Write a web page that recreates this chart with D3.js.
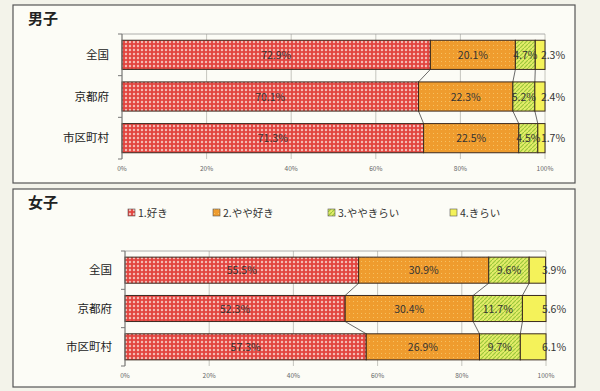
<!DOCTYPE html>
<html>
<head>
<meta charset="utf-8">
<script src="https://cdn.jsdelivr.net/npm/d3@7"></script>
<style>
  body { margin: 0; background: #f3f3ea; }
  svg { display: block; font-family: "Noto Sans CJK JP", sans-serif; }
</style>
</head>
<body>
<div id="chart"></div>
<script>
// Data
const categories = ["全国", "京都府", "市区町村"];
const seriesNames = ["1.好き", "2.やや好き", "3.ややきらい", "4.きらい"];
const boys = [
  [72.9, 20.1, 4.7, 2.3],
  [70.1, 22.3, 5.2, 2.4],
  [71.3, 22.5, 4.5, 1.7]
];
const girls = [
  [55.5, 30.9, 9.6, 3.9],
  [52.3, 30.4, 11.7, 5.6],
  [57.3, 26.9, 9.7, 6.1]
];
const tickLabels = ["0%", "20%", "40%", "60%", "80%", "100%"];

const width = 600, height = 391;
const svg = d3.select("#chart").append("svg")
  .attr("width", width)
  .attr("height", height);

// Patterns for the four series
const defs = svg.append("defs");
const p1 = defs.append("pattern").attr("id", "pat0")
  .attr("patternUnits", "userSpaceOnUse").attr("width", 4).attr("height", 4);
p1.append("rect").attr("width", 4).attr("height", 4).attr("fill", "#e2443f");
p1.append("path").attr("d", "M2,0.6 L3.4,2 L2,3.4 L0.6,2 Z").attr("fill", "#f7d0c8");

const p2 = defs.append("pattern").attr("id", "pat1")
  .attr("patternUnits", "userSpaceOnUse").attr("width", 4).attr("height", 4);
p2.append("rect").attr("width", 4).attr("height", 4).attr("fill", "#ef9c2e");
p2.append("rect").attr("x", 1).attr("y", 1).attr("width", 1).attr("height", 1).attr("fill", "#f6c060");

const p3 = defs.append("pattern").attr("id", "pat2")
  .attr("patternUnits", "userSpaceOnUse").attr("width", 4).attr("height", 4);
p3.append("rect").attr("width", 4).attr("height", 4).attr("fill", "#e4ec6a");
p3.append("path").attr("d", "M0,4 L4,0").attr("stroke", "#9cc83a").attr("stroke-width", 1.2);

const p4 = defs.append("pattern").attr("id", "pat3")
  .attr("patternUnits", "userSpaceOnUse").attr("width", 4).attr("height", 4);
p4.append("rect").attr("width", 4).attr("height", 4).attr("fill", "#f4f25a");

const fills = ["url(#pat0)", "url(#pat1)", "url(#pat2)", "url(#pat3)"];

function panel(opts) {
  const g = svg.append("g");

  // frame
  g.append("rect")
    .attr("x", opts.frame[0]).attr("y", opts.frame[1])
    .attr("width", opts.frame[2]).attr("height", opts.frame[3])
    .attr("fill", "#fcfcf6").attr("stroke", "#555").attr("stroke-width", 1.2);

  g.append("text")
    .attr("x", opts.frame[0] + 15).attr("y", opts.frame[1] + 19)
    .attr("font-size", 15).attr("font-weight", "bold").attr("fill", "#222")
    .text(opts.title);

  const x = d3.scaleLinear().domain([0, 100]).range(opts.xRange);
  const y = d3.scaleBand().domain(categories).range(opts.yRange).paddingInner(opts.pad).paddingOuter(opts.pad / 2);

  // gridlines
  g.append("g").selectAll("line")
    .data(d3.range(0, 101, 20))
    .join("line")
    .attr("x1", d => x(d)).attr("x2", d => x(d))
    .attr("y1", opts.yRange[0]).attr("y2", opts.yRange[1])
    .attr("stroke", "#b8b8b0").attr("stroke-width", 0.8);

  g.append("line")
    .attr("x1", x(0)).attr("x2", x(100))
    .attr("y1", opts.yRange[0]).attr("y2", opts.yRange[0])
    .attr("stroke", "#999").attr("stroke-width", 0.8);

  // stacked data
  const rows = opts.data.map((vals, i) => {
    let acc = 0;
    return vals.map((v, k) => {
      const seg = { cat: categories[i], k: k, v: v, x0: acc, x1: acc + v };
      acc += v;
      return seg;
    });
  });

  // connector lines between bars
  const conn = [];
  for (let i = 0; i < rows.length - 1; i++) {
    for (let k = 0; k < 3; k++) {
      conn.push({ a: rows[i][k].x1, b: rows[i + 1][k].x1, ya: y(categories[i]) + y.bandwidth(), yb: y(categories[i + 1]) });
    }
  }
  g.append("g").selectAll("line")
    .data(conn)
    .join("line")
    .attr("x1", d => x(d.a)).attr("x2", d => x(d.b))
    .attr("y1", d => d.ya).attr("y2", d => d.yb)
    .attr("stroke", "#444").attr("stroke-width", 0.8);

  // bars
  g.append("g").selectAll("rect")
    .data(rows.flat())
    .join("rect")
    .attr("x", d => x(d.x0))
    .attr("y", d => y(d.cat))
    .attr("width", d => x(d.x1) - x(d.x0))
    .attr("height", y.bandwidth())
    .attr("fill", d => fills[d.k])
    .attr("stroke", "#3a2a20").attr("stroke-width", 1);

  // value labels
  g.append("g").selectAll("text")
    .data(rows.flat())
    .join("text")
    .attr("x", d => d.k === 3 ? x(100) + 8 : x((d.x0 + d.x1) / 2))
    .attr("y", d => y(d.cat) + y.bandwidth() / 2 + 4)
    .attr("text-anchor", "middle")
    .attr("font-size", 10.5)
    .attr("fill", "#333")
    .text(d => d.v.toFixed(1) + "%");

  // category axis
  g.append("line")
    .attr("x1", x(0)).attr("x2", x(0))
    .attr("y1", opts.yRange[0]).attr("y2", opts.yRange[1])
    .attr("stroke", "#777");
  g.append("g").selectAll("line")
    .data(d3.range(categories.length + 1))
    .join("line")
    .attr("x1", x(0) - 4).attr("x2", x(0))
    .attr("y1", i => opts.yRange[0] + i * y.step()).attr("y2", i => opts.yRange[0] + i * y.step())
    .attr("stroke", "#777");
  g.append("g").selectAll("text")
    .data(categories)
    .join("text")
    .attr("x", x(0) - 13)
    .attr("y", d => y(d) + y.bandwidth() / 2 + 4)
    .attr("text-anchor", "end")
    .attr("font-size", 11.5)
    .attr("fill", "#222")
    .text(d => d);

  // value axis labels
  g.append("g").selectAll("text")
    .data(tickLabels)
    .join("text")
    .attr("x", (d, i) => x(i * 20))
    .attr("y", opts.tickY)
    .attr("text-anchor", "middle")
    .attr("font-size", 6.5)
    .attr("fill", "#666")
    .text(d => d);

  return g;
}

panel({
  title: "男子", data: boys,
  frame: [13, 5, 562, 178],
  xRange: [122, 545], yRange: [34, 159], pad: 0.3, tickY: 171
});

const g2 = panel({
  title: "女子", data: girls,
  frame: [13, 189, 562, 198],
  xRange: [125, 546], yRange: [251, 366], pad: 0.32, tickY: 378
});

// legend
const legendX = [128, 213, 328, 450];
const leg = g2.append("g").selectAll("g")
  .data(seriesNames)
  .join("g")
  .attr("transform", (d, i) => `translate(${legendX[i]},208)`);
leg.append("rect")
  .attr("width", 7).attr("height", 7).attr("y", 1)
  .attr("fill", (d, i) => fills[i]).attr("stroke", "#555").attr("stroke-width", 0.6);
leg.append("text")
  .attr("x", 10).attr("y", 8.5)
  .attr("font-size", 10.5).attr("fill", "#333")
  .text(d => d);
</script>
</body>
</html>
